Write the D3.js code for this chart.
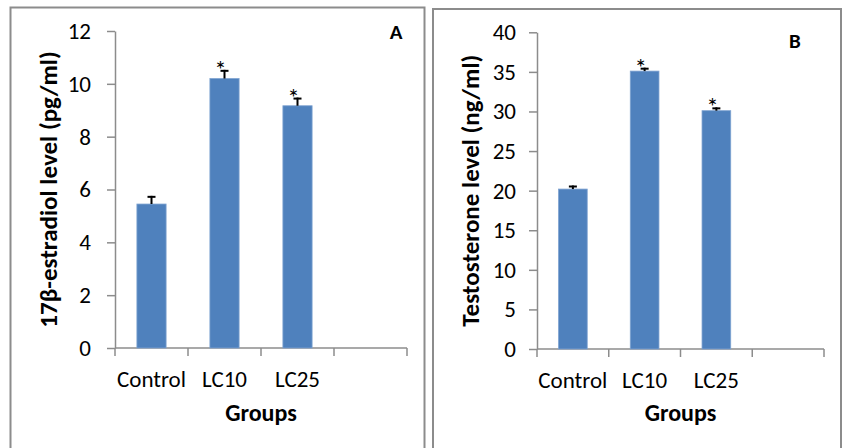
<!DOCTYPE html>
<html>
<head>
<meta charset="utf-8">
<script src="https://cdn.jsdelivr.net/npm/d3@7"></script>
<style>
  html, body { margin: 0; padding: 0; background: #fff; }
  svg { display: block; }
  text { font-family: Carlito, Lato, "Open Sans", sans-serif; fill: #000; }
</style>
</head>
<body>
<div id="chart"></div>
<script>
  // groups on the x axis (the 4th slot is left empty, like the original Excel chart)
  const categories = ['Control', 'LC10', 'LC25'];
  const significance = ['', '*', '*'];

  // panel A: 17β-estradiol (pg/ml)
  const estradiolMean = [5.45, 10.2, 9.17];
  const estradiolErr = [0.31, 0.33, 0.31];
  const estradiolTicks = [0, 2, 4, 6, 8, 10, 12];

  // panel B: testosterone (ng/ml)
  const testoMean = [20.2, 35.1, 30.1];
  const testoErr = [0.45, 0.43, 0.42];
  const testoTicks = [0, 5, 10, 15, 20, 25, 30, 35, 40];

  const W = 842, H = 448;
  const barColor = '#4f81bd';
  const frameColor = '#8c8c8c';

  const svg = d3.select('#chart').append('svg')
    .attr('width', W).attr('height', H);

  const panels = [
    {
      letter: 'A', ylabel: '17β-estradiol level (pg/ml)',
      mean: estradiolMean, err: estradiolErr, ticks: estradiolTicks,
      frame: { x: 10.5, y: 7.5, w: 414, h: 460 },
      x0: 115, x1: 407, yTop: 31, yBottom: 348,
      letterPos: [396, 39], tickPad: 16
    },
    {
      letter: 'B', ylabel: 'Testosterone level (ng/ml)',
      mean: testoMean, err: testoErr, ticks: testoTicks,
      frame: { x: 433, y: 9, w: 408, h: 460 },
      x0: 537, x1: 824, yTop: 32.3, yBottom: 349,
      letterPos: [795, 48], tickPad: 13
    }
  ];

  panels.forEach(p => {
    const g = svg.append('g');

    g.append('rect')
      .attr('x', p.frame.x).attr('y', p.frame.y)
      .attr('width', p.frame.w).attr('height', p.frame.h)
      .attr('fill', 'none').attr('stroke', frameColor).attr('stroke-width', 2);

    const x = d3.scaleBand()
      .domain([...categories, ''])
      .range([p.x0, p.x1])
      .paddingInner(0.6).paddingOuter(0.3);

    const y = d3.scaleLinear()
      .domain([d3.min(p.ticks), d3.max(p.ticks)])
      .range([p.yBottom, p.yTop]);

    // y axis
    const yAxis = d3.axisLeft(y)
      .tickValues(p.ticks)
      .tickSize(8)
      .tickPadding(p.tickPad)
      .tickSizeOuter(0);
    const ya = g.append('g')
      .attr('transform', `translate(${p.x0},0)`)
      .call(yAxis);
    ya.select('.domain').attr('stroke', frameColor).attr('stroke-width', 1.5);
    ya.selectAll('.tick line').attr('stroke', frameColor).attr('stroke-width', 1.5);
    ya.selectAll('.tick text')
      .style('font-size', '23px')
      .attr('fill', '#000');

    // x axis: line plus ticks on band boundaries
    const step = x.step();
    const bounds = d3.range(0, categories.length + 2).map(i => p.x0 + i * step);
    g.append('line')
      .attr('x1', p.x0).attr('x2', p.x1)
      .attr('y1', y(0)).attr('y2', y(0))
      .attr('stroke', frameColor).attr('stroke-width', 1.5);
    g.selectAll('.xtick').data(bounds).enter().append('line')
      .attr('class', 'xtick')
      .attr('x1', d => d).attr('x2', d => d)
      .attr('y1', y(0)).attr('y2', y(0) + 8)
      .attr('stroke', frameColor).attr('stroke-width', 1.5);

    g.selectAll('.xlab').data(categories).enter().append('text')
      .attr('class', 'xlab')
      .attr('x', d => x(d) + x.bandwidth() / 2)
      .attr('y', y(0) + 39)
      .attr('text-anchor', 'middle')
      .style('font-size', '23px')
      .text(d => d);

    // bars
    g.selectAll('.bar').data(p.mean).enter().append('rect')
      .attr('class', 'bar')
      .attr('x', (d, i) => x(categories[i]))
      .attr('width', x.bandwidth())
      .attr('y', d => y(d))
      .attr('height', d => y(0) - y(d))
      .attr('fill', barColor)
      .attr('stroke', '#7fa3d1').attr('stroke-width', 0.8);

    // error bars (upper only)
    p.mean.forEach((m, i) => {
      const cx = x(categories[i]) + x.bandwidth() / 2;
      const top = y(m + p.err[i]);
      g.append('line')
        .attr('x1', cx).attr('x2', cx)
        .attr('y1', y(m)).attr('y2', top)
        .attr('stroke', '#000').attr('stroke-width', 2);
      g.append('line')
        .attr('x1', cx - 4).attr('x2', cx + 4)
        .attr('y1', top + 1).attr('y2', top + 1)
        .attr('stroke', '#000').attr('stroke-width', 2);
      if (significance[i]) {
        g.append('text')
          .attr('x', cx - 4)
          .attr('y', top + 8)
          .attr('text-anchor', 'middle')
          .style('font-size', '25px')
          .text(significance[i]);
      }
    });

    // labels
    g.append('text')
      .attr('transform', `translate(${p.x0 - 58},${(p.yTop + p.yBottom) / 2}) rotate(-90)`)
      .attr('text-anchor', 'middle')
      .style('font-size', '25px')
      .style('font-weight', 'bold')
      .text(p.ylabel);

    g.append('text')
      .attr('x', (p.x0 + p.x1) / 2)
      .attr('y', 421)
      .attr('text-anchor', 'middle')
      .style('font-size', '24px')
      .style('font-weight', 'bold')
      .text('Groups');

    g.append('text')
      .attr('x', p.letterPos[0]).attr('y', p.letterPos[1])
      .attr('text-anchor', 'middle')
      .style('font-size', '21px')
      .style('font-weight', 'bold')
      .text(p.letter);
  });
</script>
</body>
</html>
